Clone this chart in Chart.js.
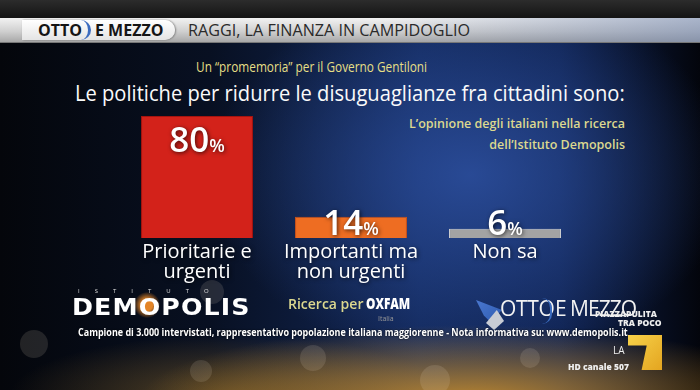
<!DOCTYPE html>
<html>
<head>
<meta charset="utf-8">
<script src="https://cdn.jsdelivr.net/npm/chart.js@4.4.1/dist/chart.umd.min.js"></script>
<style>
  html, body { margin: 0; padding: 0; }
  body {
    width: 700px; height: 390px; overflow: hidden; position: relative;
    font-family: "Open Sans", "Noto Sans", sans-serif;
    background:
      radial-gradient(ellipse 330px 75px at 470px 400px, rgba(215,150,40,0.85), rgba(215,150,40,0) 100%),
      radial-gradient(ellipse 220px 60px at 230px 395px, rgba(150,110,40,0.55), rgba(150,110,40,0) 100%),
      radial-gradient(ellipse 260px 190px at 470px 175px, rgba(45,80,160,0.85), rgba(45,80,160,0) 100%),
      linear-gradient(to right, #04060b 0%, #081022 30%, #12285a 60%, #0f2250 80%, #03050c 100%);
  }
  .abs { position: absolute; white-space: nowrap; }
  #topstrip { left: 0; top: 0; width: 700px; height: 18px; background: linear-gradient(#2c2c2c, #141414); }
  #hbar {
    left: 0; top: 18px; width: 700px; height: 24px;
    background:
      linear-gradient(to right, rgba(0,0,0,0) 55%, rgba(110,130,170,0.55) 100%),
      linear-gradient(#f2f2f2, #d0d0d0 55%, #a8a8a8);
    border-bottom: 1px solid #777;
  }
  #pill {
    left: 22px; top: 20px; width: 153px; height: 20px;
    background: linear-gradient(#ffffff, #e4e4e4);
    border-radius: 0 10px 10px 0; box-shadow: 1px 0 2px rgba(0,0,0,0.4);
  }
  #sep { left: 80px; top: 20px; width: 8px; height: 20px; border-right: 3px solid #3b6cc0; border-radius: 0 10px 10px 0; }
  .hd { font-weight: 700; font-size: 16px; color: #151515; top: 20px; line-height: 20px; }
  #headline { left: 188px; top: 20px; font-size: 16.5px; line-height: 20px; color: #2a2a2a; transform-origin: 0 0; }
  #sub { left: 196px; top: 57px; font-size: 14.5px; color: #e6df86; transform-origin: 0 0; }
  #title { left: 75px; top: 77px; font-size: 22px; color: #fafafa; transform-origin: 0 0; }
  .note { right: 75px; font-size: 12.5px; font-weight: 600; color: #dcd88f; text-align: right; }
  #c { position: absolute; left: 0; top: 0; }
  #demo { left: 72px; top: 294px; font-size: 23px; font-weight: 800; color: #fff; letter-spacing: 1px; font-family: "DejaVu Sans", sans-serif; transform-origin: 0 0; }
  #ist { left: 78px; top: 287px; font-size: 6px; color: #ddd; letter-spacing: 15px; }
  #orb { left: 134px; top: 292px; width: 26px; height: 26px; border-radius: 50%; background: radial-gradient(circle, rgba(240,140,40,0.95) 30%, rgba(240,140,40,0) 72%); }
  #ric { left: 288px; top: 294px; font-size: 14px; font-weight: 600; color: #dcd88f; transform-origin: 0 0; }
  #oxf { left: 366px; top: 293px; font-size: 15px; font-weight: 800; color: #fff; transform-origin: 0 0; }
  #ita { left: 378px; top: 314px; font-size: 7px; color: #999; }
  #arrow { left: 476px; top: 300px; width: 26px; height: 22px; background: linear-gradient(135deg, #4a78d0, #2f5bb0); clip-path: polygon(0 0, 100% 45%, 55% 100%, 30% 70%); }
  #arrow2 { left: 486px; top: 310px; width: 18px; height: 20px; background: #c8ccd4; clip-path: polygon(60% 0, 100% 55%, 45% 100%, 0 65%); }
  #otto2 { left: 500px; top: 294px; font-size: 21px; font-weight: 400; color: #f2f2f2; letter-spacing: -0.3px; }
  #sep2 { left: 542px; top: 298px; width: 8px; height: 26px; border-right: 2px solid #3b6cc0; border-radius: 0 14px 14px 0; }
  #em2 { left: 555px; top: 294px; font-size: 21px; font-weight: 400; color: #f2f2f2; letter-spacing: -1px; }
  #piazza { left: 595px; top: 308px; font-size: 8.5px; font-weight: 800; color: #eee; }
  #trapoco { left: 618px; top: 317px; font-size: 8.5px; font-weight: 800; color: #eee; }
  #foot { left: 78px; top: 325px; font-size: 10.5px; font-weight: 700; color: #fff; transform-origin: 0 0; text-shadow: 0 0 2px #000; }
  #seven { left: 628px; top: 335px; width: 34px; height: 35px; background: linear-gradient(135deg, #f7d24a, #e4a520); clip-path: polygon(0 0, 100% 0, 100% 100%, 40% 100%, 55% 30%, 0 30%); }
  #la { left: 613px; top: 343px; font-size: 10px; color: #eee; }
  #hdc { left: 568px; top: 361px; font-size: 8.5px; font-weight: 800; color: #eee; }
  .bokeh { position: absolute; border-radius: 50%; background: rgba(255,240,210,0.12); }
</style>
</head>
<body>
<div class="abs" id="topstrip"></div>
<div class="abs" id="hbar"></div>
<div class="abs" id="pill"></div>
<div class="abs" id="sep"></div>
<div class="abs hd" style="left:38px">OTTO</div>
<div class="abs hd" style="left:95px">E MEZZO</div>
<div class="abs" id="headline">RAGGI, LA FINANZA IN CAMPIDOGLIO</div>
<div class="abs" id="sub">Un “promemoria” per il Governo Gentiloni</div>
<div class="abs" id="title">Le politiche per ridurre le disuguaglianze fra cittadini sono:</div>
<div class="abs note" style="top:115px">L’opinione degli italiani nella ricerca</div>
<div class="abs note" style="top:136px">dell’Istituto Demopolis</div>

<div class="bokeh" style="left:20px;top:330px;width:28px;height:28px"></div>
<div class="bokeh" style="left:190px;top:360px;width:22px;height:22px"></div>
<div class="bokeh" style="left:300px;top:345px;width:26px;height:26px"></div>
<div class="bokeh" style="left:420px;top:365px;width:30px;height:30px"></div>
<div class="bokeh" style="left:520px;top:348px;width:20px;height:20px"></div>
<div class="bokeh" style="left:200px;top:280px;width:24px;height:24px"></div>

<canvas id="c" width="700" height="390"></canvas>

<div class="abs" id="orb"></div>
<div class="abs" id="ist">ISTITUTO</div>
<div class="abs" id="demo">DEMOPOLIS</div>
<div class="abs" id="ric">Ricerca per</div>
<div class="abs" id="oxf">OXFAM</div>
<div class="abs" id="ita">Italia</div>
<div class="abs" id="arrow"></div>
<div class="abs" id="arrow2"></div>
<div class="abs" id="otto2">OTTO</div>
<div class="abs" id="sep2"></div>
<div class="abs" id="em2">E MEZZO</div>
<div class="abs" id="piazza">PIAZZAPULITA</div>
<div class="abs" id="trapoco">TRA POCO</div>
<div class="abs" id="foot">Campione di 3.000 intervistati, rappresentativo popolazione italiana maggiorenne - Nota informativa su: www.demopolis.it</div>
<div class="abs" id="seven"></div>
<div class="abs" id="la">LA</div>
<div class="abs" id="hdc">HD canale 507</div>

<script>
// survey answers
const categories = [['Prioritarie e', 'urgenti'], ['Importanti ma', 'non urgenti'], ['Non sa']];
const values = [80, 14, 6];
const barColors = ['#d3221a', '#ee6d22', '#a3a3a3'];
const barBorders = ['#a5140f', '#c9521a', '#d0d0d0'];

// squeeze the wide lines to the width they have on screen
function fit(id, w) {
    const el = document.getElementById(id);
    const k = w / el.scrollWidth;
    el.style.transform = 'scaleX(' + k + ')';
}
fit('headline', 282);
fit('sub', 231);
fit('title', 550);
fit('foot', 550);
fit('demo', 178);
fit('ric', 75);
fit('oxf', 44);

const labelPlugin = {
    id: 'labels',
    afterDatasetsDraw(chart) {
        const ctx = chart.ctx;
        const meta = chart.getDatasetMeta(0);
        meta.data.forEach((bar, i) => {
            const num = String(values[i]);
            ctx.save();
            ctx.shadowColor = 'rgba(0,0,0,0.7)';
            ctx.shadowBlur = 4;
            ctx.shadowOffsetX = 1;
            ctx.shadowOffsetY = 1;
            ctx.fillStyle = '#ffffff';
            ctx.textBaseline = 'alphabetic';
            ctx.font = '600 35px "Open Sans", sans-serif';
            const wNum = ctx.measureText(num).width;
            ctx.font = '600 18px "Open Sans", sans-serif';
            const wPct = ctx.measureText('%').width;
            const x0 = bar.x - (wNum + wPct) / 2;
            const yb = Math.min(bar.y + 36, bar.base - 3);
            ctx.font = '600 35px "Open Sans", sans-serif';
            ctx.textAlign = 'left';
            ctx.fillText(num, x0, yb);
            ctx.font = '600 18px "Open Sans", sans-serif';
            ctx.fillText('%', x0 + wNum, yb);

            ctx.font = '20px "Open Sans", sans-serif';
            ctx.textAlign = 'center';
            ctx.textBaseline = 'middle';
            categories[i].forEach((line, j) => {
                ctx.fillText(line, bar.x, bar.base + 14 + j * 20);
            });
            ctx.restore();
        });
    }
};

new Chart(document.getElementById('c').getContext('2d'), {
    type: 'bar',
    data: {
        labels: categories.map(c => c.join(' ')),
        datasets: [{
            data: values,
            backgroundColor: barColors,
            borderColor: barBorders,
            borderWidth: 1,
            barPercentage: 0.727,
            categoryPercentage: 1
        }]
    },
    options: {
        responsive: false,
        animation: false,
        layout: { padding: { left: 120, right: 118, top: 85.5, bottom: 152 } },
        scales: {
            x: { display: false },
            y: { display: false, min: 0, max: 100 }
        },
        plugins: {
            legend: { display: false },
            tooltip: { enabled: false }
        }
    },
    plugins: [labelPlugin]
});
</script>
</body>
</html>
